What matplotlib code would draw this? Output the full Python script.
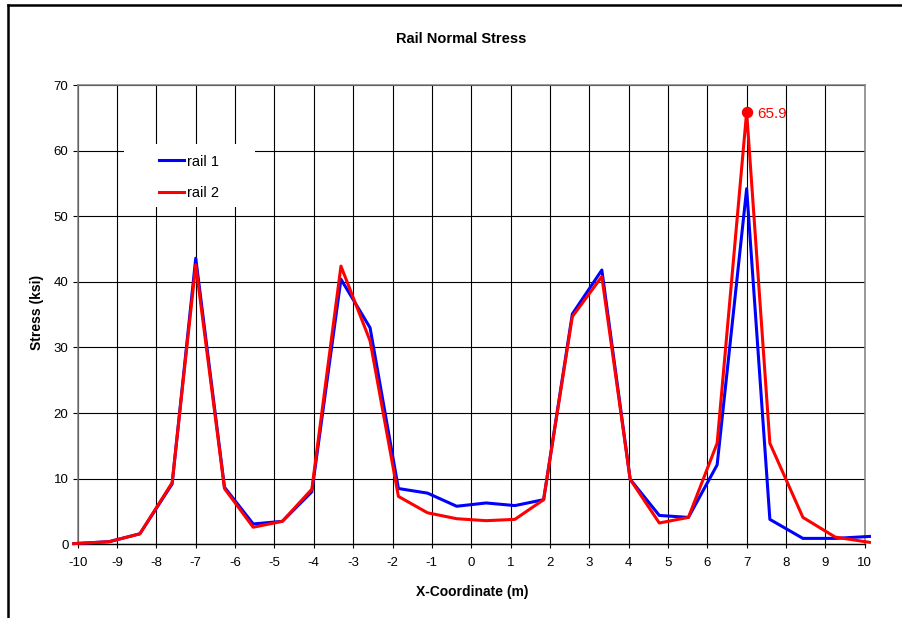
import matplotlib
matplotlib.use("Agg")
import matplotlib.pyplot as plt
from matplotlib.lines import Line2D
from matplotlib.patches import Rectangle

plt.rcParams['font.family'] = ['Liberation Sans', 'DejaVu Sans']
plt.rcParams['axes.unicode_minus'] = False

# ---- data ----
x_coord = [-10.1, -9.2, -8.42, -7.6, -7.0, -6.27, -5.54, -4.8, -4.05, -3.31,
           -2.57, -1.85, -1.11, -0.37, 0.38, 1.11, 1.84, 2.57, 3.32, 4.04,
           4.78, 5.52, 6.25, 7.0, 7.59, 8.43, 9.25, 10.12]
rail1 = [0.1, 0.4, 1.6, 9.2, 43.6, 8.7, 3.1, 3.5, 8.0, 40.4,
         33.0, 8.5, 7.8, 5.8, 6.3, 5.9, 6.8, 35.1, 41.8, 9.9,
         4.4, 4.1, 12.1, 54.2, 3.8, 0.9, 0.9, 1.2]
rail2 = [0.1, 0.4, 1.6, 9.4, 42.6, 8.5, 2.6, 3.5, 8.4, 42.4,
         31.0, 7.3, 4.8, 3.9, 3.6, 3.8, 6.8, 34.7, 40.8, 9.9,
         3.25, 4.1, 15.4, 65.9, 15.4, 4.1, 1.1, 0.3]
series_names = ["rail 1", "rail 2"]
x_ticks = list(range(-10, 11))
y_ticks = list(range(0, 71, 10))

W, H = 902, 618
fig = plt.figure(figsize=(W / 100, H / 100), dpi=100)
ax = fig.add_axes([77.7 / W, 1 - 544.3 / H, (864.7 - 77.7) / W, (544.3 - 85) / H])

ax.set_xlim(-10, 10)
ax.set_ylim(0, 70)
ax.set_xticks(x_ticks)
ax.set_yticks(y_ticks)
ax.grid(True, color='black', lw=0.8)
ax.set_axisbelow(True)
ax.tick_params(axis='x', direction='out', length=3, width=0.8, pad=6.3, labelsize=9.5)
ax.tick_params(axis='y', direction='out', length=3.6, width=0.8, pad=3.0, labelsize=9.5)
for s in ['top', 'right', 'left']:
    ax.spines[s].set_color('#7f7f7f')
    ax.spines[s].set_linewidth(1.1)
ax.spines['bottom'].set_color('black')
ax.spines['bottom'].set_linewidth(1.0)

l1, = ax.plot(x_coord, rail1, color='#0000FF', lw=2.2, clip_on=False, zorder=3, label=series_names[0])
l2, = ax.plot(x_coord, rail2, color='#FF0000', lw=2.2, clip_on=False, zorder=4, label=series_names[1])

# peak marker
ip = max(range(len(rail2)), key=lambda i: rail2[i])
ax.plot([x_coord[ip]], [rail2[ip]], 'o', color='#FF0000', ms=7.2, zorder=5)
ax.annotate(f"{rail2[ip]:.1f}", (x_coord[ip], rail2[ip]), xytext=(7.7, -1.4),
            textcoords='offset points', color='#FF0000', fontsize=11, va='center', ha='left')

# legend background
ax.add_patch(Rectangle((123.7 / W, 1 - 207 / H), (254.9 - 123.7) / W, (207 - 144) / H,
                       transform=fig.transFigure, facecolor='white', edgecolor='none',
                       zorder=2, clip_on=False))
leg = ax.legend(handles=[l1, l2], loc='upper left', bbox_to_anchor=(158.6 / W, 1 - 154.5 / H),
                bbox_transform=fig.transFigure, frameon=False, fontsize=10.5,
                handlelength=1.75, handletextpad=0.2, labelspacing=1.2,
                borderpad=0, borderaxespad=0)
leg.set_zorder(6)

fig.text(460.7 / W, 1 - 38.7 / H, "Rail Normal Stress", ha='center', va='center',
         fontsize=10.5, fontweight='bold')
fig.text(472.2 / W, 1 - 591.7 / H, "X-Coordinate (m)", ha='center', va='center',
         fontsize=10, fontweight='bold')
fig.text(36.7 / W, 1 - 312.5 / H, "Stress (ksi)", ha='center', va='center',
         fontsize=10, fontweight='bold', rotation=90)

# outer chart border (partially visible)
fig.add_artist(Line2D([8 / W, 8 / W], [0, 1 - 5 / H], transform=fig.transFigure, color='black', lw=1.8))
fig.add_artist(Line2D([8 / W, 1], [1 - 5 / H, 1 - 5 / H], transform=fig.transFigure, color='black', lw=1.8))

fig.savefig("out.png", dpi=100)
